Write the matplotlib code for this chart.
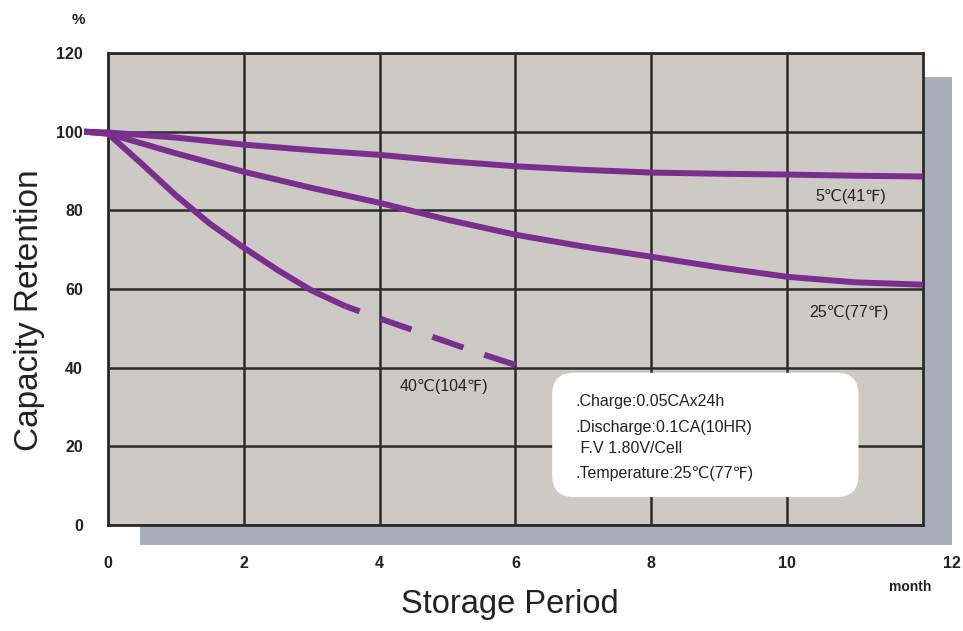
import matplotlib.pyplot as plt
from matplotlib.patches import Rectangle, FancyBboxPatch

plt.rcParams['font.family'] = ['Liberation Sans', 'DejaVu Sans']

# 보관 기간(개월)에 따른 용량 유지율(%)
months = [-0.35, 0, 1, 2, 3, 4, 5, 6, 7, 8, 9, 10, 11, 12]
temp_5c = [100, 99.8, 98.5, 96.7, 95.3, 94.1, 92.5, 91.2, 90.3, 89.6, 89.3, 89.1, 88.8, 88.6]
temp_25c = [100, 99.5, 94.5, 89.8, 85.7, 81.9, 77.6, 73.8, 70.8, 68.2, 65.5, 63.1, 61.7, 61.1]

months_40_solid = [-0.35, 0, 0.5, 1, 1.5, 2, 2.5, 3, 3.5]
temp_40c_solid = [100, 99.5, 91.8, 83.8, 76.6, 70.5, 64.8, 59.6, 55.6]
# 점선 구간 (6개월 쪽에서 시작해야 끝이 실선으로 맞음)
months_40_dash = [6, 5.5, 5, 4.5, 4, 3.5]
temp_40c_dash = [40.7, 43.5, 46.5, 49.5, 52.5, 55.6]

curve_labels = ['5℃(41℉)', '25℃(77℉)', '40℃(104℉)']
label_pos = [(10.93, 83.5), (10.91, 54), (4.94, 35.1)]

note_lines = ['.Charge:0.05CAx24h', '.Discharge:0.1CA(10HR)', ' F.V 1.80V/Cell', '.Temperature:25℃(77℉)']
note_y = [31.3, 24.9, 19.5, 13.2]

x_ticks = [0, 2, 4, 6, 8, 10]
y_ticks = [0, 20, 40, 60, 80, 100, 120]

purple = '#7a2f8f'
text_c = '#222222'

fig = plt.figure(figsize=(9.63, 6.31), dpi=100)
ax = fig.add_axes([0.1121, 0.168, 0.8464, 0.748])
ax.set_zorder(1)

# 그림자
fig.patches.append(Rectangle((0.1454, 0.1363), 0.8432, 0.7417, transform=fig.transFigure,
                             facecolor='#a9adb5', edgecolor='none', zorder=0))

ax.set_facecolor('#cdcac5')
ax.set_xlim(0, 12)
ax.set_ylim(0, 120)
ax.set_xticks(x_ticks)
ax.set_yticks(y_ticks)
ax.grid(True, color='#2b2b2b', linewidth=1.8)
ax.set_axisbelow(True)
for s in ax.spines.values():
    s.set_color('#2b2b2b')
    s.set_linewidth(2)
ax.tick_params(length=0, labelsize=11.5, colors=text_c, pad=18)
ax.tick_params(axis='x', pad=22)
for t in ax.get_xticklabels() + ax.get_yticklabels():
    t.set_fontweight('bold')

ax.annotate('12', xy=(12, 0), xytext=(21, -22), textcoords='offset points',
            ha='center', va='top', fontsize=11.5, fontweight='bold', color=text_c)

lw = 4.3
style = dict(color=purple, lw=lw, solid_capstyle='butt', solid_joinstyle='round', zorder=3)
ax.plot(months, temp_5c, clip_on=False, **style)
ax.plot(months, temp_25c, clip_on=False, **style)
ax.plot(months_40_solid, temp_40c_solid, clip_on=False, **style)
ax.plot(months_40_dash, temp_40c_dash, linestyle=(0, (5.5, 3.7)), dash_capstyle='butt', **style)

for lab, (lx, ly) in zip(curve_labels, label_pos):
    ax.text(lx, ly, lab, ha='center', va='center', fontsize=11.5, color=text_c)

# 조건 박스
box = FancyBboxPatch((6.54, 7.1), 11.05 - 6.54, 38.7 - 7.1,
                     boxstyle='round,pad=0,rounding_size=0.32', mutation_aspect=17.3,
                     facecolor='white', edgecolor='none', zorder=4)
ax.add_patch(box)
for line, ny in zip(note_lines, note_y):
    ax.text(6.89, ny, line, ha='left', va='center', fontsize=11.5, color=text_c, zorder=5)

fig.text(30 / 963, 1 - 310 / 631, 'Capacity Retention', rotation=90, ha='center', va='center',
         fontsize=24, color=text_c)
fig.text(510 / 963, 1 - 605 / 631, 'Storage Period', ha='center', va='center',
         fontsize=23.5, color=text_c)
fig.text(910 / 963, 1 - 587 / 631, 'month', ha='center', va='center', fontsize=10,
         fontweight='bold', color=text_c)
fig.text(78 / 963, 1 - 20 / 631, '%', ha='center', va='center', fontsize=11,
         fontweight='bold', color=text_c)

plt.savefig('out.png', dpi=100)
